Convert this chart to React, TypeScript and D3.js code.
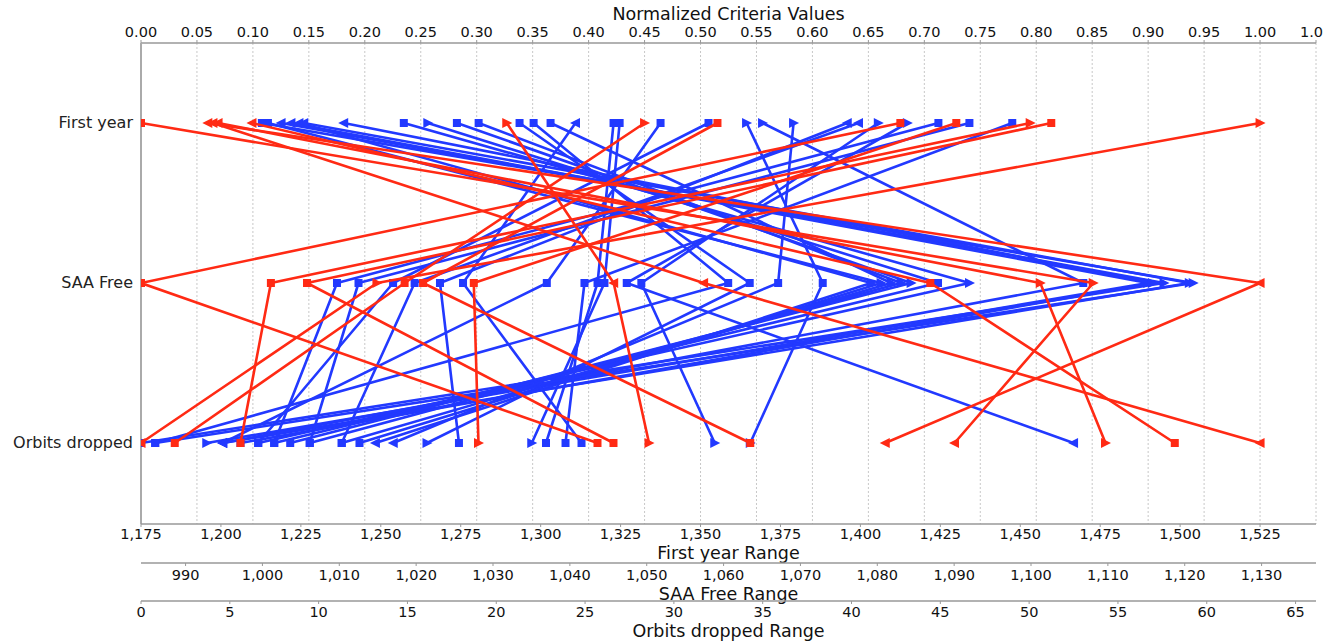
import React from 'react';
import * as d3 from 'd3';

const CRITERIA = ['First year', 'SAA Free', 'Orbits dropped'];
const RANGE_TITLES = ['First year Range', 'SAA Free Range', 'Orbits dropped Range'];
const NORM_TICKS = d3.range(0, 21).map((i) => i * 0.05).concat([1.05]);
const FY_TICKS = d3.range(1175, 1526, 25);
const SAA_TICKS = d3.range(990, 1131, 10);
const ORB_TICKS = d3.range(0, 66, 5);

// blue solutions
const blueFirstYear = [1212.8, 1214.7, 1218.8, 1221.9, 1224.4, 1225.9, 1238.4, 1257.2, 1264.7, 1273.8, 1280.6, 1293.4, 1297.8, 1303.1, 1310.9, 1322.8, 1324.7, 1337.5, 1352.5, 1364.4, 1369.4, 1379.1, 1395.9, 1399.4, 1405.6, 1414.7, 1424.4, 1434.1, 1447.5];
const blueSaaFree = [1121.1, 1080.5, 1117.3, 1115.2, 1079.2, 1120.6, 1115.8, 1092.0, 1087.9, 1084.4, 1083.1, 1063.4, 1060.6, 1081.8, 1026.1, 1043.6, 1044.5, 1037.0, 1017.0, 1072.9, 1106.8, 1067.1, 1023.1, 1019.8, 1049.3, 1047.4, 1009.7, 1012.5, 1041.9];
const blueOrbits = [0.8, 12.3, 0, 3.7, 13.2, 4.6, 5.6, 6.6, 7.5, 8.4, 9.5, 16.1, 0.8, 11.3, 24.8, 22.8, 22.0, 4.6, 6.6, 34.3, 4.6, 14.2, 17.9, 11.3, 32.3, 52.5, 7.5, 9.5, 23.9];
const blueMarkers = ['srs', 'srs', 'lrs', 'lrr', 'lrl', 'lrl', 'lrs', 'srs', 'rss', 'srs', 'srs', 'ssr', 'sss', 'srs', 'lss', 'sss', 'ssr', 'ssl', 'sss', 'rsr', 'rsl', 'rsl', 'lss', 'lss', 'rsr', 'rsl', 'sss', 'sss', 'sss'];

// red solutions
const redFirstYear = [1175, 1195.9, 1199.1, 1209.7, 1197.5, 1525, 1332.5, 1355.3, 1412.5, 1430.0, 1453.1, 1459.7, 1289.4];
const redSaaFree = [1108.1, 1129.8, 1101.2, 1086.9, 1057.4, 1014.9, 1018.5, 1020.9, 984.2, 1027.5, 1001.1, 1005.8, 1045.7];
const redOrbits = [45.8, 41.9, 54.3, 58.2, 63, 0, 1.9, 34.3, 25.7, 19.0, 5.6, 26.6, 28.6];
const redMarkers = ['srl', 'lll', 'lrr', 'lss', 'lll', 'rrl', 'rss', 'sss', 'sss', 'ssr', 'rss', 'sss', 'rlr'];

const BLUE = '#2239ff';
const RED = '#ff2a14';
const FONT = '"DejaVu Sans", sans-serif';

const W = 1338;
const H = 641;
const LEFT = 141;
const RIGHT = 1316;
const TOP = 43;
const BOTTOM = 524;

type Series = { vals: number[]; marks: string; color: string };

function buildSeries(fy: number[], saa: number[], orb: number[], marks: string[], color: string): Series[] {
  return fy.map((v, i) => ({ vals: [v, saa[i], orb[i]], marks: marks[i], color }));
}

const Marker = ({ x, y, kind, color }: { x: number; y: number; kind: string; color: string }) => {
  if (kind === 's') return <rect x={x - 4} y={y - 4} width={8} height={8} fill={color} />;
  if (kind === 'l') return <polygon points={`${x - 5.5},${y} ${x + 4.5},${y - 5} ${x + 4.5},${y + 5}`} fill={color} />;
  return <polygon points={`${x + 5.5},${y} ${x - 4.5},${y - 5} ${x - 4.5},${y + 5}`} fill={color} />;
};

export default function App() {
  const blue = buildSeries(blueFirstYear, blueSaaFree, blueOrbits, blueMarkers, BLUE);
  const red = buildSeries(redFirstYear, redSaaFree, redOrbits, redMarkers, RED);
  const all = blue.concat(red);
  const extents = [0, 1, 2].map((k) => d3.extent(all, (s) => s.vals[k]) as [number, number]);

  const norm = d3.scaleLinear().domain([0, 1.05]).range([LEFT, RIGHT]);
  const rowY = d3.scalePoint<string>().domain(CRITERIA).range([123, 443]);

  const rangeScales = extents.map(([mn, mx]) =>
    d3.scaleLinear().domain([mn, mn + 1.05 * (mx - mn)]).range([LEFT, RIGHT])
  );
  const rangeTicks = [FY_TICKS, SAA_TICKS, ORB_TICKS];
  const axisY = [BOTTOM, 563, 601];
  const labelDy = [15, 16.5, 16];
  const titleDy = [35, 36.5, 36];
  const fmt = d3.format(',');

  const line = d3.line<[number, number]>();

  const pointsOf = (s: Series): [number, number][] =>
    s.vals.map((v, k) => {
      const [mn, mx] = extents[k];
      return [norm((v - mn) / (mx - mn)), rowY(CRITERIA[k]) as number];
    });

  return (
    <svg width={W} height={H} style={{ position: 'absolute', left: 0, top: 0, background: '#fff' }} fontFamily={FONT}>
      <rect x={0} y={0} width={W} height={H} fill="#fff" />
      <defs>
        <clipPath id="plotclip">
          <rect x={LEFT} y={TOP} width={RIGHT - LEFT} height={BOTTOM - TOP} />
        </clipPath>
      </defs>
      {/* grid */}
      {NORM_TICKS.map((t, i) => (
        <line key={'g' + i} x1={norm(t)} x2={norm(t)} y1={TOP} y2={BOTTOM} stroke="#c8c8c8" strokeWidth={1} strokeDasharray="2,2" />
      ))}
      {/* top axis */}
      <text x={(LEFT + RIGHT) / 2} y={20} textAnchor="middle" fontSize={17.5} fill="#111">Normalized Criteria Values</text>
      <line x1={LEFT} x2={RIGHT} y1={TOP} y2={TOP} stroke="#999" strokeWidth={1.5} />
      {NORM_TICKS.map((t, i) => (
        <g key={'t' + i}>
          <line x1={norm(t)} x2={norm(t)} y1={TOP - 3} y2={TOP} stroke="#999" />
          <text x={t > 1.02 ? norm(t) - 16 : norm(t)} y={37} textAnchor={t > 1.02 ? 'start' : 'middle'} fontSize={14.5} fill="#111">
            {t > 1.02 ? '1.0' : t.toFixed(2)}
          </text>
        </g>
      ))}
      {/* left category axis */}
      <line x1={LEFT} x2={LEFT} y1={TOP} y2={BOTTOM} stroke="#aaa" strokeWidth={2} />
      {CRITERIA.map((c) => (
        <text key={c} x={133} y={(rowY(c) as number) + 5} textAnchor="end" fontSize={16} fill="#222">{c}</text>
      ))}
      {/* series */}
      <g clipPath="url(#plotclip)">
        {all.map((s, i) => {
          const pts = pointsOf(s);
          return (
            <g key={'s' + i}>
              <path d={line(pts) as string} fill="none" stroke={s.color} strokeWidth={2.6} strokeLinejoin="round" />
              {pts.map((p, k) => (
                <Marker key={k} x={p[0]} y={p[1]} kind={s.marks[k]} color={s.color} />
              ))}
            </g>
          );
        })}
      </g>
      {/* bottom range axes */}
      {rangeScales.map((sc, k) => (
        <g key={'ax' + k}>
          <line x1={LEFT} x2={RIGHT} y1={axisY[k]} y2={axisY[k]} stroke="#999" strokeWidth={1.5} />
          {rangeTicks[k].map((t) => (
            <g key={t}>
              <line x1={sc(t)} x2={sc(t)} y1={axisY[k]} y2={axisY[k] + 3} stroke="#999" />
              <text x={sc(t)} y={axisY[k] + labelDy[k]} textAnchor="middle" fontSize={14.5} fill="#111">{fmt(t)}</text>
            </g>
          ))}
          <text x={(LEFT + RIGHT) / 2} y={axisY[k] + titleDy[k]} textAnchor="middle" fontSize={17.5} fill="#111">{RANGE_TITLES[k]}</text>
        </g>
      ))}
    </svg>
  );
}
